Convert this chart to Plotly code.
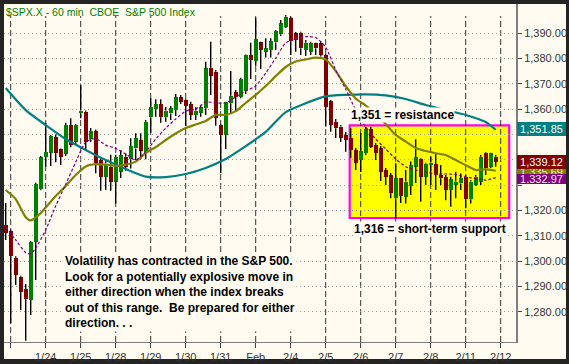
import plotly.graph_objects as go

# ---------------- data ----------------
day_start_index = [0, 7, 14, 21, 28, 35, 42, 49, 56, 63, 70, 77, 84, 91, 98]
day_labels = ["", "1/24", "1/25", "1/28", "1/29", "1/30", "1/31", "Feb",
              "2/4", "2/5", "2/6", "2/7", "2/8", "2/11", "2/12"]
price_ticks = [1280, 1290, 1300, 1310, 1320, 1330, 1340, 1350, 1360, 1370, 1380, 1390]
price_tick_labels = ["1,280.00", "1,290.00", "1,300.00", "1,310.00", "1,320.00", "",
                     "", "", "1,360.00", "1,370.00", "1,380.00", "1,390.00"]

bar_index = list(range(-1, 98))
opens = [1314.3, 1311.9, 1301.4, 1293.9, 1289.1, 1284.7, 1307.7, 1328.4, 1341.0, 1342.8,
         1349.0, 1344.1, 1342.3, 1353.7, 1347.1, 1358.3, 1359.0, 1348.1, 1351.4, 1339.9,
         1333.3, 1337.3, 1331.4, 1335.3, 1341.2, 1340.2, 1344.5, 1347.8, 1342.6, 1356.8,
         1359.9, 1362.0, 1356.8, 1358.3, 1359.6, 1364.6, 1363.6, 1362.0, 1357.7, 1358.6,
         1360.3, 1376.3, 1374.7, 1353.7, 1349.8, 1362.3, 1366.6, 1364.9, 1367.1, 1381.3,
         1379.0, 1386.3, 1382.6, 1383.3, 1386.3, 1389.5, 1392.5, 1395.8, 1389.9, 1390.1,
         1383.3, 1382.6, 1385.9, 1385.9, 1381.3, 1363.2, 1355.0, 1353.1, 1349.8, 1348.5,
         1343.9, 1339.9, 1342.6, 1352.1, 1345.8, 1344.5, 1336.0, 1334.0, 1324.8, 1332.7,
         1325.5, 1329.7, 1337.3, 1340.2, 1333.3, 1338.0, 1338.3, 1334.0, 1333.1, 1328.1,
         1330.1, 1330.7, 1333.3, 1324.4, 1330.1, 1331.4, 1342.8, 1337.3, 1341.2]
highs = [1323.0, 1312.4, 1302.0, 1294.3, 1291.0, 1308.0, 1331.0, 1341.5, 1354.6, 1349.8,
         1350.0, 1344.5, 1354.6, 1356.4, 1354.0, 1369.5, 1359.4, 1352.5, 1352.0, 1340.5,
         1339.5, 1342.0, 1342.0, 1343.9, 1342.5, 1348.5, 1350.5, 1350.5, 1355.7, 1364.3,
         1363.9, 1363.9, 1360.8, 1361.2, 1366.0, 1365.6, 1363.9, 1362.9, 1360.7, 1361.6,
         1378.7, 1386.6, 1375.4, 1354.0, 1362.9, 1375.0, 1367.5, 1372.4, 1381.5, 1386.2,
         1396.0, 1386.6, 1387.9, 1387.9, 1391.2, 1395.1, 1397.1, 1396.4, 1390.4, 1390.5,
         1387.2, 1386.6, 1386.2, 1386.6, 1381.7, 1363.6, 1356.1, 1353.7, 1351.0, 1352.4,
         1344.7, 1350.6, 1352.9, 1352.9, 1346.6, 1345.4, 1336.8, 1334.8, 1338.6, 1332.8,
         1336.0, 1339.3, 1348.1, 1340.6, 1338.6, 1341.2, 1342.6, 1338.0, 1334.0, 1333.3,
         1335.3, 1334.6, 1334.0, 1332.0, 1334.0, 1341.9, 1343.1, 1342.8, 1341.9]
lows = [1308.4, 1275.6, 1290.6, 1280.8, 1268.7, 1278.8, 1292.6, 1328.0, 1337.3, 1337.6,
        1339.0, 1338.0, 1341.5, 1345.0, 1345.8, 1356.4, 1343.9, 1347.0, 1334.7, 1327.8,
        1328.1, 1327.8, 1322.8, 1332.8, 1335.7, 1336.6, 1339.9, 1340.2, 1340.2, 1350.7,
        1357.0, 1354.6, 1355.0, 1355.7, 1357.3, 1362.0, 1353.3, 1355.7, 1355.7, 1357.0,
        1357.7, 1365.6, 1353.4, 1334.7, 1344.3, 1358.3, 1359.2, 1364.3, 1366.0, 1371.9,
        1377.1, 1375.8, 1380.3, 1380.3, 1383.3, 1388.8, 1392.0, 1381.3, 1382.6, 1381.3,
        1380.9, 1381.3, 1381.3, 1380.7, 1353.1, 1351.1, 1348.6, 1347.0, 1343.2, 1340.7,
        1336.0, 1335.2, 1341.9, 1344.7, 1339.9, 1331.6, 1330.1, 1324.8, 1316.9, 1323.0,
        1322.8, 1326.1, 1330.9, 1323.5, 1330.1, 1330.1, 1328.1, 1330.1, 1324.1, 1321.5,
        1324.8, 1328.1, 1320.9, 1322.8, 1329.7, 1330.1, 1334.0, 1336.8, 1337.3]
closes = [1311.1, 1302.0, 1294.6, 1288.0, 1285.1, 1307.7, 1330.5, 1341.0, 1343.2, 1349.4,
          1342.8, 1341.2, 1353.7, 1345.8, 1353.7, 1359.4, 1347.1, 1351.4, 1338.6, 1333.3,
          1338.5, 1331.4, 1341.2, 1341.9, 1337.3, 1345.4, 1348.5, 1343.6, 1355.0, 1360.9,
          1362.0, 1356.8, 1359.4, 1360.3, 1364.6, 1362.9, 1361.2, 1357.7, 1359.4, 1360.7,
          1376.1, 1373.2, 1356.6, 1349.8, 1362.7, 1365.3, 1364.9, 1371.9, 1381.3, 1379.4,
          1387.6, 1383.3, 1384.0, 1386.8, 1390.8, 1393.8, 1396.4, 1386.8, 1387.2, 1384.0,
          1386.2, 1386.2, 1384.0, 1381.3, 1360.9, 1353.7, 1352.4, 1348.7, 1347.8, 1343.9,
          1338.7, 1343.6, 1352.1, 1345.2, 1342.7, 1335.3, 1333.3, 1326.9, 1332.7, 1325.7,
          1331.4, 1338.0, 1341.0, 1333.3, 1338.3, 1338.9, 1334.0, 1332.7, 1328.1, 1332.3,
          1331.4, 1332.7, 1324.4, 1331.4, 1333.3, 1341.2, 1336.6, 1342.6, 1339.12]

sma50_index = [-1, 3, 7, 11, 15, 19, 23, 27, 31, 35, 39, 43, 47, 51, 55, 59, 63, 67, 71,
               75, 79, 83, 87, 91, 95, 97]
sma50_value = [1368.3, 1359.6, 1353.7, 1348.2, 1343.9, 1339.9, 1336.4, 1333.4, 1333.2,
               1334.4, 1336.8, 1340.3, 1345.4, 1351.0, 1358.8, 1362.3, 1365.0, 1365.6,
               1365.8, 1365.4, 1364.0, 1361.6, 1359.6, 1357.7, 1354.9, 1351.85]

ema20_index = [-1, 1, 3, 4, 6, 9, 11, 13, 15, 17, 19, 21, 23, 25, 27, 29, 31, 33, 35, 37,
               39, 41, 43, 45, 47, 49, 51, 53, 55, 57, 59, 61, 63, 65, 67, 69, 71, 73, 75,
               77, 79, 81, 83, 85, 87, 89, 91, 93, 95, 97]
ema20_value = [1328.1, 1324.5, 1317.4, 1316.1, 1319.0, 1325.7, 1329.7, 1334.0, 1337.4,
               1338.3, 1338.1, 1337.6, 1338.1, 1339.3, 1342.7, 1345.0, 1347.8, 1350.4,
               1352.5, 1353.9, 1355.3, 1357.7, 1357.7, 1359.2, 1362.4, 1365.6, 1369.1,
               1373.0, 1376.6, 1378.8, 1379.6, 1380.3, 1379.6, 1375.0, 1369.1, 1364.2,
               1361.4, 1358.1, 1354.1, 1349.8, 1347.2, 1344.7, 1343.5, 1342.6, 1341.9,
               1339.9, 1337.9, 1336.0, 1336.2, 1335.69]

sma10_index = [-1, 1, 3, 4, 5, 7, 9, 11, 13, 15, 17, 19, 21, 23, 25, 27, 29, 31, 33, 35,
               37, 39, 41, 43, 45, 47, 49, 51, 53, 55, 57, 59, 61, 63, 65, 67, 69, 71, 73,
               75, 77, 79, 81, 83, 85, 87, 89, 91, 93, 95, 97]
sma10_value = [1313.5, 1308.4, 1303.4, 1302.9, 1305.2, 1312.3, 1321.8, 1330.3, 1339.1,
               1347.0, 1348.4, 1345.8, 1344.5, 1342.3, 1339.9, 1343.1, 1348.2, 1352.5,
               1356.1, 1359.2, 1360.0, 1362.8, 1362.4, 1362.4, 1364.8, 1367.1, 1369.1,
               1374.2, 1380.1, 1386.1, 1387.8, 1388.6, 1388.2, 1384.4, 1375.4, 1367.9,
               1359.6, 1352.9, 1348.2, 1344.3, 1340.3, 1337.3, 1336.0, 1335.2, 1334.4,
               1334.4, 1334.2, 1333.2, 1332.6, 1332.0, 1332.97]

last_sma50 = "1,351.85"
last_close = "1,339.12"
last_ema20 = "1,335.69"
last_sma10 = "1,332.97"

title_text = "$SPX.X - 60 min  CBOE  S&P 500 Index"
resistance_text = "1,351 = resistance"
support_text = "1,316 = short-term support"
note_lines = ["Volatility has contracted in the S&P 500.",
              "Look for a potentially explosive move in",
              "either direction when the index breaks",
              "out of this range.  Be prepared for either",
              "direction. . ."]

# ---------------- styling / layout helpers ----------------
W, H = 569, 364
ML, MR, MT, MB = 4, 53, 4, 22
PW, PH = W - ML - MR, H - MT - MB
CREAM = "#FFFBF0"
DARK = "#242424"
UP = "#008000"
DOWN = "#800000"
FONT = "Liberation Sans, Arial, sans-serif"

X_RANGE = [-1.34, 101.06]
Y_RANGE = [1268.16, 1401.44]


def xp(px):
    return (px - ML) / PW


def yp(py):
    return (MT + PH - py) / PH


fig = go.Figure()

# wicks (drawn outside the bodies)
wx, wy = [], []
for i, o, h, l, c in zip(bar_index, opens, highs, lows, closes):
    top, bot = max(o, c), min(o, c)
    wx += [i, i, None, i, i, None]
    wy += [h, top, None, bot, l, None]

fig.add_trace(go.Bar(
    x=bar_index,
    y=[max(abs(c - o), 0.4) for o, c in zip(opens, closes)],
    base=[min(o, c) for o, c in zip(opens, closes)],
    marker=dict(color=[UP if c >= o else DOWN for o, c in zip(opens, closes)],
                line=dict(width=0)),
    width=0.72, hoverinfo="skip"))
fig.add_trace(go.Scatter(x=wx, y=wy, mode="lines",
                         line=dict(color="#000000", width=1.4), hoverinfo="skip"))
fig.add_trace(go.Scatter(x=sma50_index, y=sma50_value, mode="lines",
                         line=dict(color="#008080", width=2.2, shape="spline", smoothing=0.6)))
fig.add_trace(go.Scatter(x=ema20_index, y=ema20_value, mode="lines",
                         line=dict(color="#808000", width=2.2, shape="spline", smoothing=0.6)))
fig.add_trace(go.Scatter(x=sma10_index, y=sma10_value, mode="lines",
                         line=dict(color="#800080", width=1.2, dash="3px,2px",
                                   shape="spline", smoothing=0.6)))

shapes = [
    dict(type="rect", xref="paper", yref="paper", x0=xp(4), x1=xp(566), y0=yp(359), y1=yp(4),
         fillcolor=CREAM, line=dict(width=0), layer="below"),
    dict(type="rect", xref="x", yref="y", x0=67.8, x1=99.7, y0=1317.05, y1=1353.6,
         fillcolor="#FFFF00", line=dict(color="#FF00FF", width=2.2), layer="below"),
]
for d in day_start_index:
    shapes.append(dict(type="line", xref="x", yref="y", x0=d, x1=d,
                       y0=Y_RANGE[0], y1=1396.7,
                       line=dict(color="#333333", width=1, dash="6px,3px"), layer="below"))

annotations = [
    dict(text=title_text, xref="paper", yref="paper", x=xp(4), y=yp(4),
         xanchor="left", yanchor="top", showarrow=False,
         font=dict(family=FONT, size=10.5, color="#008000")),
    dict(text="<b>%s</b>" % resistance_text, xref="paper", yref="paper",
         x=xp(402), y=yp(115), xanchor="center", yanchor="middle", showarrow=False,
         bgcolor=CREAM, borderpad=0, font=dict(family=FONT, size=12, color="#000000")),
    dict(text="<b>%s</b>" % support_text, xref="paper", yref="paper",
         x=xp(429.5), y=yp(229), xanchor="center", yanchor="middle", showarrow=False,
         bgcolor=CREAM, borderpad=0, font=dict(family=FONT, size=12, color="#000000")),
    dict(text="<b>" + "<br>".join(note_lines) + "</b>", xref="paper", yref="paper",
         x=xp(63), y=yp(292), xanchor="left", yanchor="middle", align="left",
         showarrow=False, bgcolor=CREAM, borderpad=1,
         font=dict(family=FONT, size=12, color="#000000")),
]

tags = [  # (text, fill, centre px, height px, text colour)
    (last_sma50, "#008080", 129.4, 13.5, "#FFFFFF"),
    (last_ema20, "#808000", 171.0, 13, "#E8E8E8"),
    (last_close, "#800000", 161.7, 13.5, "#FFFFFF"),
    (last_sma10, "#800080", 179.5, 9.5, "#E8E8E8"),
]
for txt, fill, cy, hh, tc in tags:
    annotations.append(dict(text=txt, xref="paper", yref="paper", x=xp(517), y=yp(cy),
                            xanchor="left", yanchor="middle", showarrow=False,
                            width=49, height=hh, bgcolor=fill, borderpad=0, borderwidth=0,
                            font=dict(family=FONT, size=11, color=tc)))

fig.update_layout(
    width=W, height=H,
    margin=dict(l=ML, r=MR, t=MT, b=MB, pad=0),
    paper_bgcolor=DARK, plot_bgcolor="rgba(0,0,0,0)",
    showlegend=False, barmode="overlay", bargap=0,
    shapes=shapes, annotations=annotations,
    xaxis=dict(range=X_RANGE, tickvals=day_start_index, ticktext=day_labels,
               showgrid=False, zeroline=False, showline=True, linecolor="#808080",
               linewidth=1, ticks="outside", ticklen=5, tickcolor="#444444",
               tickfont=dict(family=FONT, size=11, color="#333333"), automargin=False,
               fixedrange=True),
    yaxis=dict(range=Y_RANGE, side="right", tickvals=price_ticks,
               ticktext=price_tick_labels,
               showgrid=True, gridcolor="#9A9A9A", griddash="1px,3px", gridwidth=1,
               zeroline=False, showline=True, linecolor="#808080", linewidth=2,
               ticks="outside", ticklen=4, tickcolor="#444444",
               tickfont=dict(family=FONT, size=11, color="#333333"), automargin=False,
               fixedrange=True),
)

fig.write_html("out.html", config={"displayModeBar": False},
               post_script="document.body.style.margin='0';document.body.style.overflow='hidden';")
